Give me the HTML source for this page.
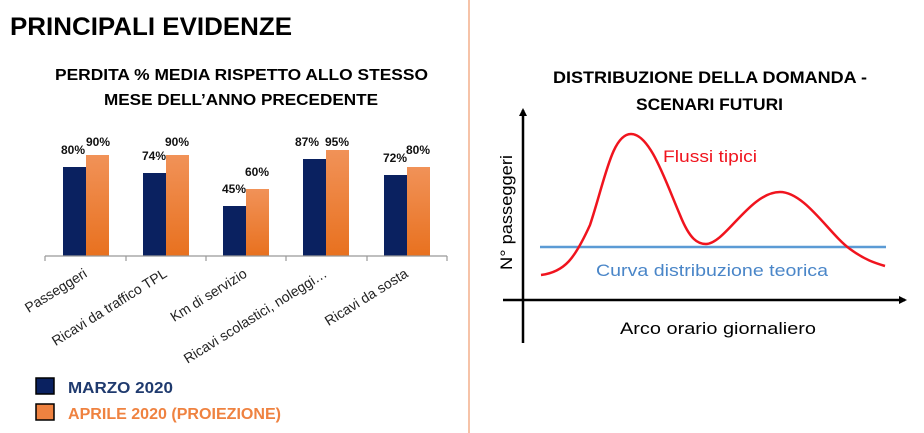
<!DOCTYPE html>
<html><head><style>
html,body{margin:0;padding:0;background:#fff;}
svg{display:block;font-family:"Liberation Sans",sans-serif;}
</style></head><body>
<svg width="924" height="433" viewBox="0 0 924 433" xmlns="http://www.w3.org/2000/svg">
<defs>
<linearGradient id="og" x1="0" y1="0" x2="0" y2="1"><stop offset="0" stop-color="#f19258"/><stop offset="1" stop-color="#e8711f"/></linearGradient>
<marker id="ar" markerWidth="8" markerHeight="8" refX="6" refY="4" orient="auto" markerUnits="userSpaceOnUse"><path d="M0,0 L8,4 L0,8 z" fill="#000"/></marker>
</defs>
<rect x="468" y="0" width="2" height="433" fill="#f6c3a8"/>
<text x="10" y="35" font-size="25" font-weight="bold" fill="#000" textLength="282" lengthAdjust="spacingAndGlyphs">PRINCIPALI EVIDENZE</text>
<text x="55" y="80" font-size="16" font-weight="bold" textLength="373" lengthAdjust="spacingAndGlyphs">PERDITA % MEDIA RISPETTO ALLO STESSO</text>
<text x="104" y="105" font-size="16" font-weight="bold" textLength="274" lengthAdjust="spacingAndGlyphs">MESE DELL’ANNO PRECEDENTE</text>
<g fill="#0a2160">
<rect x="63" y="167" width="23" height="89"/><rect x="143" y="173" width="23" height="83"/><rect x="223" y="206" width="23" height="50"/><rect x="303" y="159" width="23" height="97"/><rect x="384" y="175" width="23" height="81"/>
</g>
<g fill="url(#og)">
<rect x="86" y="155" width="23" height="101"/><rect x="166" y="155" width="23" height="101"/><rect x="246" y="189" width="23" height="67"/><rect x="326" y="150" width="23" height="106"/><rect x="407" y="167" width="23" height="89"/>
</g>
<g stroke="#999" stroke-width="1.2" fill="none">
<path d="M45,256 H447 M45,256 v5 M126,256 v5 M206,256 v5 M286,256 v5 M367,256 v5 M447,256 v5"/>
</g>
<g font-size="12" font-weight="bold" text-anchor="middle" fill="#111">
<text x="73" y="154">80%</text><text x="98" y="146">90%</text>
<text x="154" y="160">74%</text><text x="177" y="146">90%</text>
<text x="234" y="193">45%</text><text x="257" y="176">60%</text>
<text x="307" y="146">87%</text><text x="337" y="146">95%</text>
<text x="395" y="162">72%</text><text x="418" y="154">80%</text>
</g>
<g font-size="14" fill="#222" text-anchor="end">
<text transform="translate(88,276) rotate(-32)">Passeggeri</text>
<text transform="translate(168,276) rotate(-32)">Ricavi da traffico TPL</text>
<text transform="translate(248,276) rotate(-32)">Km di servizio</text>
<text transform="translate(328,276) rotate(-32)">Ricavi scolastici, noleggi…</text>
<text transform="translate(409,276) rotate(-32)">Ricavi da sosta</text>
</g>
<rect x="36" y="378" width="18" height="16" fill="#0a2160" stroke="#000" stroke-width="1.5"/>
<rect x="36" y="404" width="18" height="16" fill="#ef8240" stroke="#000" stroke-width="1.5"/>
<text x="68" y="393" font-size="16" font-weight="bold" fill="#1f3a6e" textLength="105" lengthAdjust="spacingAndGlyphs">MARZO 2020</text>
<text x="68" y="419" font-size="16" font-weight="bold" fill="#ef8240" textLength="213" lengthAdjust="spacingAndGlyphs">APRILE 2020 (PROIEZIONE)</text>

<text x="553" y="83" font-size="16.5" font-weight="bold" textLength="314" lengthAdjust="spacingAndGlyphs">DISTRIBUZIONE DELLA DOMANDA -</text>
<text x="636" y="110" font-size="16.5" font-weight="bold" textLength="147" lengthAdjust="spacingAndGlyphs">SCENARI FUTURI</text>
<line x1="523" y1="343" x2="523" y2="110" stroke="#000" stroke-width="2.5" marker-end="url(#ar)"/>
<line x1="503" y1="300" x2="905" y2="300" stroke="#000" stroke-width="2.5" marker-end="url(#ar)"/>
<line x1="540" y1="247" x2="886" y2="247" stroke="#5b9bd5" stroke-width="2.5"/>
<path d="M541,275 C565,272 575,258 590,225 C605,180 612,134 631,134 C650,134 665,180 680,215 C690,240 698,244 706,244 C725,244 750,192 780,192 C805,192 830,235 850,249 C865,260 875,263 885,266" fill="none" stroke="#f0141e" stroke-width="2.5"/>
<text x="663" y="162" font-size="17" fill="#f0141e" textLength="94" lengthAdjust="spacingAndGlyphs">Flussi tipici</text>
<text x="596" y="276" font-size="17" fill="#4a86c8" textLength="232" lengthAdjust="spacingAndGlyphs">Curva distribuzione teorica</text>
<text x="620" y="334" font-size="17" textLength="196" lengthAdjust="spacingAndGlyphs">Arco orario giornaliero</text>
<text transform="translate(512,270) rotate(-90)" font-size="17" textLength="115" lengthAdjust="spacingAndGlyphs">N° passeggeri</text>
</svg>
</body></html>
